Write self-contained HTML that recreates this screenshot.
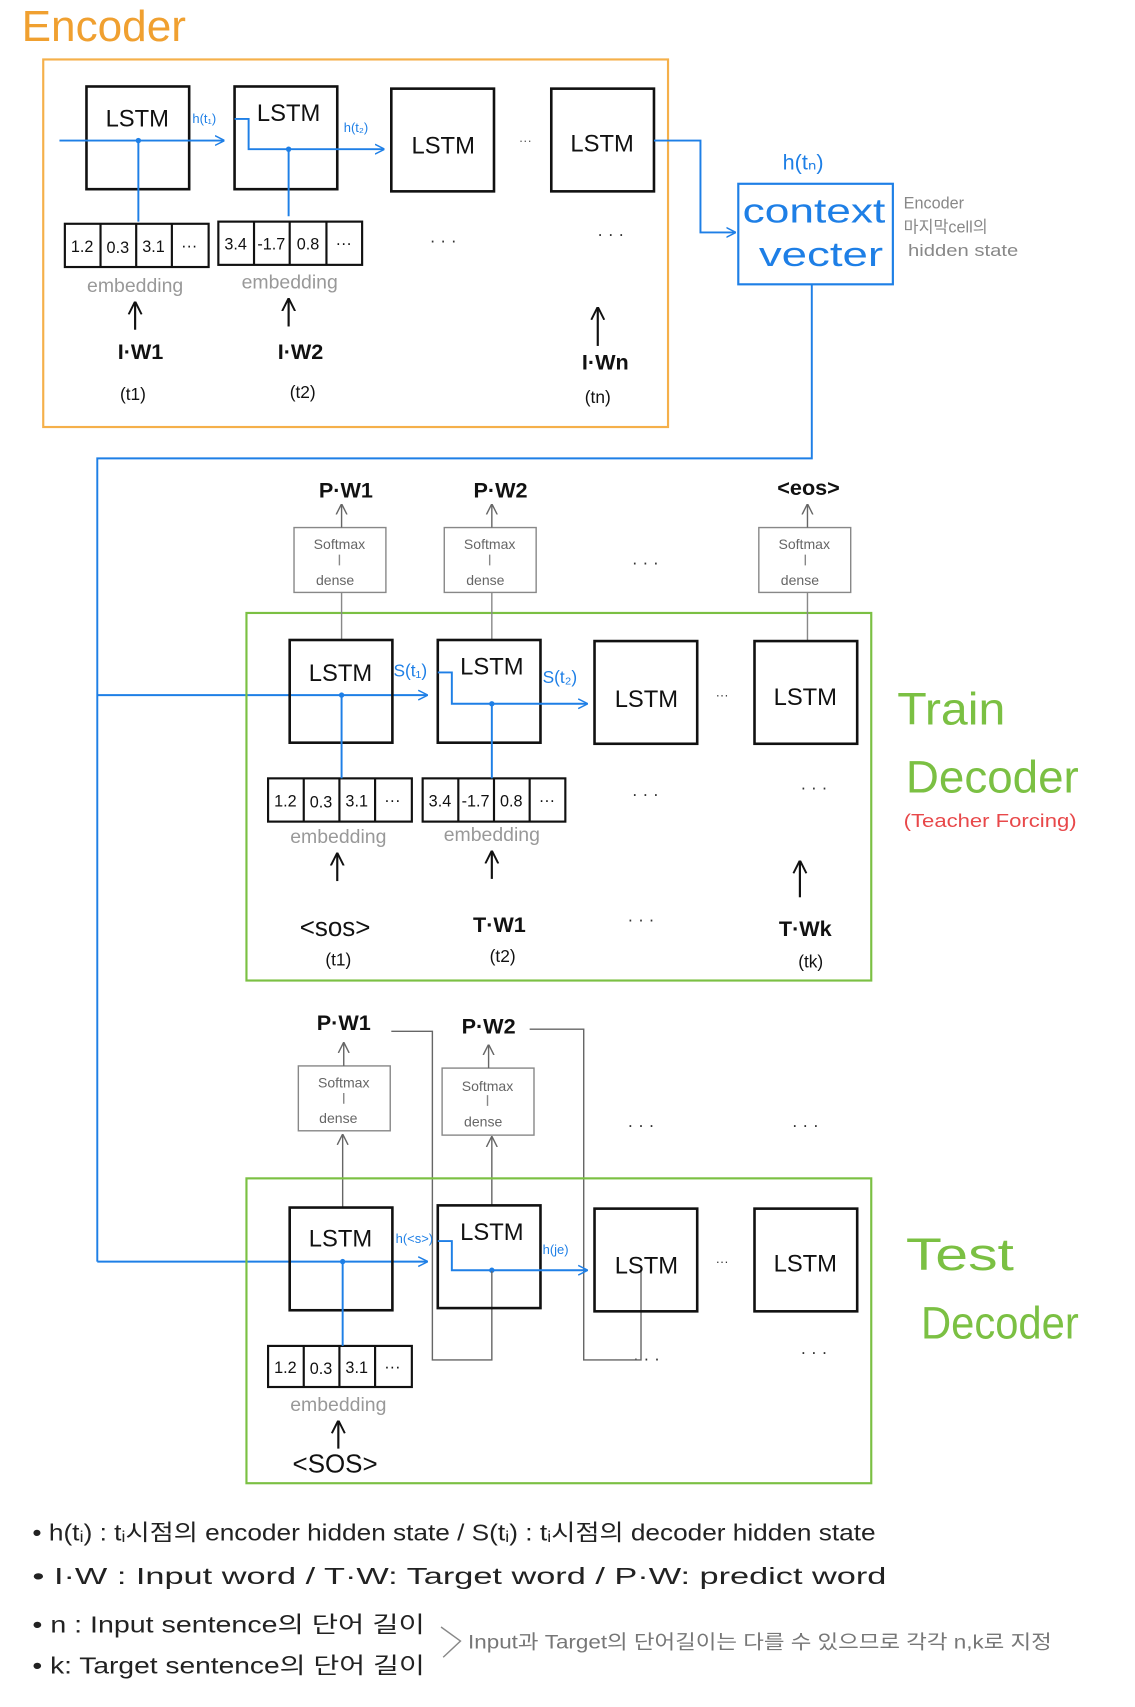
<!DOCTYPE html>
<html><head><meta charset="utf-8"><style>
html,body{margin:0;padding:0;background:#fff;width:1135px;height:1707px;overflow:hidden}
svg{display:block}
text{font-family:"Liberation Sans","Noto Sans CJK KR",sans-serif}
</style></head><body>
<svg width="1135" height="1707" viewBox="0 0 1050 1579" preserveAspectRatio="none" xmlns="http://www.w3.org/2000/svg">
<defs>
<marker id="ab" viewBox="0 0 10 10" refX="9" refY="5" markerWidth="9" markerHeight="12" orient="auto" markerUnits="userSpaceOnUse"><path d="M0,0 L10,5 L0,10" fill="none" stroke="#1e7fe6" stroke-width="1.5"/></marker>
<marker id="ak" viewBox="0 0 10 10" refX="9" refY="5" markerWidth="12" markerHeight="14" orient="auto" markerUnits="userSpaceOnUse"><path d="M0,0 L10,5 L0,10" fill="none" stroke="#111" stroke-width="1.5"/></marker>
<marker id="ag" viewBox="0 0 10 10" refX="9" refY="5" markerWidth="10" markerHeight="14" orient="auto" markerUnits="userSpaceOnUse"><path d="M0,0 L10,5 L0,10" fill="none" stroke="#666" stroke-width="1.3"/></marker>
</defs>

<!-- Encoder -->
<text x="20" y="38" font-size="40" fill="#f0a030" textLength="152" lengthAdjust="spacingAndGlyphs">Encoder</text>
<rect x="40" y="55" width="578" height="340" fill="none" stroke="#f5b04a" stroke-width="2"/>
<g fill="none" stroke="#111" stroke-width="2.4">
<rect x="80" y="80" width="95" height="95"/><rect x="217" y="80" width="95" height="95"/>
<rect x="362" y="82" width="95" height="95"/><rect x="510" y="82" width="95" height="95"/>
</g>
<g font-size="22" fill="#111" text-anchor="middle">
<text x="127" y="117">LSTM</text><text x="267" y="112">LSTM</text>
<text x="410" y="142">LSTM</text><text x="557" y="140">LSTM</text>
</g>
<text x="480" y="134" font-size="12" fill="#555">···</text>
<g stroke="#1e7fe6" stroke-width="1.8" fill="none">
<path d="M55,130 H207" marker-end="url(#ab)"/>
<path d="M128,130 V205"/>
<path d="M217,110 H230 V138 H355" marker-end="url(#ab)"/>
<path d="M267,138 V200"/>
<path d="M605,130 H648 V215 H680" marker-end="url(#ab)"/>
<path d="M751,263 V424 H90 V1167"/>
<path d="M90,643 H395" marker-end="url(#ab)"/>
<path d="M90,1167 H395" marker-end="url(#ab)"/>
</g>
<g fill="#1e7fe6"><circle cx="128" cy="130" r="2.5"/><circle cx="267" cy="138" r="2.5"/>
<circle cx="316" cy="643" r="2.5"/><circle cx="455" cy="651" r="2.5"/><circle cx="317" cy="1167" r="2.5"/><circle cx="455" cy="1175" r="2.5"/></g>
<g fill="#1e7fe6" font-size="12"><text x="178" y="114">h(t₁)</text><text x="318" y="122">h(t₂)</text></g>
<text x="724" y="157" font-size="20" fill="#1e7fe6">h(tₙ)</text>
<rect x="683" y="170" width="143" height="93" fill="none" stroke="#1e7fe6" stroke-width="2"/>
<text x="687" y="206" font-size="32" fill="#1e7fe6" textLength="132" lengthAdjust="spacingAndGlyphs">context</text>
<text x="702" y="246" font-size="32" fill="#1e7fe6" textLength="115" lengthAdjust="spacingAndGlyphs">vecter</text>
<g fill="#888" font-size="15"><text x="836" y="193">Encoder</text><text x="836" y="215">마지막cell의</text><text x="840" y="237" textLength="102" lengthAdjust="spacingAndGlyphs">hidden state</text></g>

<!-- embeddings -->
<g fill="none" stroke="#111" stroke-width="2">
<rect x="60" y="207" width="133" height="40"/><path d="M93,207V247M126,207V247M159,207V247"/>
<rect x="202" y="205" width="133" height="40"/><path d="M235,205V245M268,205V245M302,205V245"/>
<rect x="248" y="720" width="133" height="40"/><path d="M281,720V760M314,720V760M347,720V760"/>
<rect x="391" y="720" width="132" height="40"/><path d="M424,720V760M457,720V760M490,720V760"/>
<rect x="248" y="1245" width="133" height="38"/><path d="M281,1245V1283M314,1245V1283M347,1245V1283"/>
</g>
<g font-size="15" fill="#111" text-anchor="middle">
<text x="76" y="233">1.2</text><text x="109" y="234">0.3</text><text x="142" y="233">3.1</text><text x="175" y="232">···</text>
<text x="218" y="231">3.4</text><text x="251" y="231">-1.7</text><text x="285" y="231">0.8</text><text x="318" y="230">···</text>
<text x="264" y="746">1.2</text><text x="297" y="747">0.3</text><text x="330" y="746">3.1</text><text x="363" y="745">···</text>
<text x="407" y="746">3.4</text><text x="440" y="746">-1.7</text><text x="473" y="746">0.8</text><text x="506" y="745">···</text>
<text x="264" y="1270">1.2</text><text x="297" y="1271">0.3</text><text x="330" y="1270">3.1</text><text x="363" y="1269">···</text>
</g>
<g font-size="18" fill="#999" text-anchor="middle">
<text x="125" y="270">embedding</text><text x="268" y="267">embedding</text>
<text x="313" y="780">embedding</text><text x="455" y="778">embedding</text>
<text x="313" y="1305">embedding</text>
</g>
<g font-size="16" fill="#333" text-anchor="middle">
<text x="410" y="228">· · ·</text><text x="565" y="222">· · ·</text>
<text x="597" y="526">· · ·</text><text x="597" y="740">· · ·</text><text x="753" y="734">· · ·</text>
<text x="593" y="856">· · ·</text><text x="668" y="647" font-size="12">···</text>
<text x="593" y="1046">· · ·</text><text x="745" y="1046">· · ·</text>
<text x="598" y="1262">· · ·</text><text x="753" y="1256">· · ·</text><text x="668" y="1171" font-size="12">···</text>
</g>
<g stroke="#111" stroke-width="2" fill="none">
<path d="M125,305V280" marker-end="url(#ak)"/><path d="M267,302V277" marker-end="url(#ak)"/><path d="M553,320V285" marker-end="url(#ak)"/>
<path d="M312,815V790" marker-end="url(#ak)"/><path d="M455,813V788" marker-end="url(#ak)"/><path d="M740,830V797" marker-end="url(#ak)"/>
<path d="M313,1340V1315" marker-end="url(#ak)"/>
</g>
<g font-size="20" fill="#111" text-anchor="middle" font-weight="bold">
<text x="130" y="332">I·W1</text><text x="278" y="332">I·W2</text><text x="560" y="342">I·Wn</text>
<text x="320" y="460">P·W1</text><text x="463" y="460">P·W2</text><text x="748" y="458">&lt;eos&gt;</text>
<text x="310" y="866" font-weight="normal" font-size="24">&lt;sos&gt;</text><text x="462" y="862">T·W1</text><text x="745" y="866">T·Wk</text>
<text x="318" y="953">P·W1</text><text x="452" y="956">P·W2</text>
<text x="310" y="1362" font-weight="normal" font-size="24">&lt;SOS&gt;</text>
</g>
<g font-size="16" fill="#111" text-anchor="middle">
<text x="123" y="370">(t1)</text><text x="280" y="368">(t2)</text><text x="553" y="373">(tn)</text>
<text x="313" y="893">(t1)</text><text x="465" y="890">(t2)</text><text x="750" y="895">(tk)</text>
</g>

<!-- Train decoder -->
<rect x="228" y="567" width="578" height="340" fill="none" stroke="#7bc043" stroke-width="2"/>
<g fill="none" stroke="#888" stroke-width="1.3">
<rect x="272" y="488" width="85" height="60"/><rect x="411" y="488" width="85" height="60"/><rect x="702" y="488" width="85" height="60"/>
<rect x="276" y="986" width="85" height="60"/><rect x="409" y="988" width="85" height="62"/>
<path d="M316,548V592M455,548V592M747,548V593M314,513V523M453,513V523M745,513V523M318,1011V1021M451,1013V1023"/>
</g>
<g stroke="#666" stroke-width="1.3" fill="none">
<path d="M316,488V467" marker-end="url(#ag)"/><path d="M455,488V467" marker-end="url(#ag)"/><path d="M747,488V467" marker-end="url(#ag)"/>
<path d="M318,986V965" marker-end="url(#ag)"/><path d="M452,988V967" marker-end="url(#ag)"/>
<path d="M317,1117V1050" marker-end="url(#ag)"/><path d="M455,1115V1052" marker-end="url(#ag)"/>
<path d="M362,954H400V1258H455V1175"/><path d="M490,952H540V1258H593V1175"/>
</g>
<g font-size="13" fill="#666" text-anchor="middle">
<text x="314" y="508">Softmax</text><text x="310" y="541">dense</text>
<text x="453" y="508">Softmax</text><text x="449" y="541">dense</text>
<text x="744" y="508">Softmax</text><text x="740" y="541">dense</text>
<text x="318" y="1006">Softmax</text><text x="313" y="1039">dense</text>
<text x="451" y="1009">Softmax</text><text x="447" y="1042">dense</text>
</g>
<g fill="none" stroke="#111" stroke-width="2.4">
<rect x="268" y="592" width="95" height="95"/><rect x="405" y="592" width="95" height="95"/>
<rect x="550" y="593" width="95" height="95"/><rect x="698" y="593" width="95" height="95"/>
<rect x="268" y="1117" width="95" height="95"/><rect x="405" y="1115" width="95" height="95"/>
<rect x="550" y="1118" width="95" height="95"/><rect x="698" y="1118" width="95" height="95"/>
</g>
<g font-size="22" fill="#111" text-anchor="middle">
<text x="315" y="630">LSTM</text><text x="455" y="624">LSTM</text><text x="598" y="654">LSTM</text><text x="745" y="652">LSTM</text>
<text x="315" y="1153">LSTM</text><text x="455" y="1147">LSTM</text><text x="598" y="1178">LSTM</text><text x="745" y="1176">LSTM</text>
</g>
<g stroke="#1e7fe6" stroke-width="1.8" fill="none">
<path d="M316,643V720"/><path d="M405,622H418V651H543" marker-end="url(#ab)"/><path d="M455,651V720"/>
<path d="M317,1167V1245"/><path d="M405,1148H418V1175H543" marker-end="url(#ab)"/>
</g>
<g fill="#1e7fe6"><text x="364" y="626" font-size="16">S(t₁)</text><text x="502" y="632" font-size="16">S(t₂)</text>
<text x="366" y="1150" font-size="12">h(&lt;s&gt;)</text><text x="502" y="1160" font-size="12">h(je)</text></g>
<text x="830" y="670" font-size="42" fill="#7bc043" textLength="100" lengthAdjust="spacingAndGlyphs">Train</text>
<text x="838" y="733" font-size="42" fill="#7bc043" textLength="160" lengthAdjust="spacingAndGlyphs">Decoder</text>
<text x="836" y="765" font-size="17" fill="#e8484a" textLength="160" lengthAdjust="spacingAndGlyphs">(Teacher Forcing)</text>

<!-- Test decoder -->
<rect x="228" y="1090" width="578" height="282" fill="none" stroke="#7bc043" stroke-width="2"/>
<text x="838" y="1175" font-size="42" fill="#7bc043" textLength="100" lengthAdjust="spacingAndGlyphs">Test</text>
<text x="852" y="1238" font-size="42" fill="#7bc043" textLength="146" lengthAdjust="spacingAndGlyphs">Decoder</text>

<!-- legend -->
<g font-size="21" fill="#222" lengthAdjust="spacingAndGlyphs">
<text x="30" y="1425" textLength="780" lengthAdjust="spacingAndGlyphs">• h(tᵢ) : tᵢ시점의 encoder hidden state / S(tᵢ) : tᵢ시점의 decoder hidden state</text>
<text x="30" y="1465" textLength="790" lengthAdjust="spacingAndGlyphs">• I·W : Input word / T·W: Target word / P·W: predict word</text>
<text x="30" y="1510" textLength="363" lengthAdjust="spacingAndGlyphs">• n : Input sentence의 단어 길이</text>
<text x="30" y="1548" textLength="363" lengthAdjust="spacingAndGlyphs">• k: Target sentence의 단어 길이</text>
</g>
<path d="M408,1505 L426,1518 L410,1533" fill="none" stroke="#888" stroke-width="1.3"/>
<text x="433" y="1525" font-size="18" fill="#777" textLength="540" lengthAdjust="spacingAndGlyphs">Input과 Target의 단어길이는 다를 수 있으므로 각각 n,k로 지정</text>
</svg>
</body></html>
